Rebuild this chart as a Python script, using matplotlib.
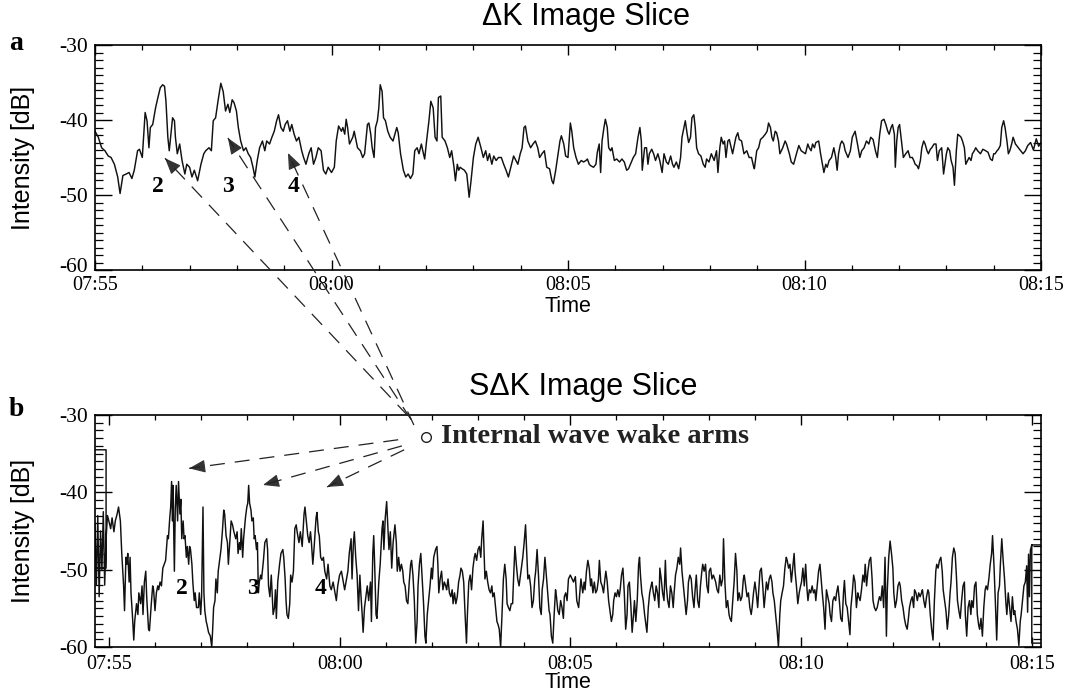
import numpy as np
import matplotlib
matplotlib.use('Agg')
import matplotlib.pyplot as plt
from matplotlib.lines import Line2D
from matplotlib.patches import FancyArrowPatch
from matplotlib.ticker import MultipleLocator
from matplotlib.transforms import ScaledTranslation

plt.rcParams['axes.unicode_minus'] = False
SERIF = 'Liberation Serif'
SANS = 'Liberation Sans'

# time axis: minutes after 07:55
time_ticks = [0, 5, 10, 15, 20]
time_labels = ['07:55', '08:00', '08:05', '08:10', '08:15']
db_ticks = [-60, -50, -40, -30]

# (minutes, dB)
trace_a = [
    (0.00, -41.5), (0.07, -42.3), (0.14, -43.7), (0.21, -44.1), (0.28, -44.8), (0.34, -45.0),
    (0.41, -45.9), (0.48, -47.6), (0.53, -49.8), (0.59, -47.4), (0.66, -47.2), (0.72, -47.0),
    (0.78, -47.8), (0.83, -46.7), (0.90, -44.1), (0.94, -43.9), (1.00, -45.0), (1.06, -39.0),
    (1.10, -40.1), (1.14, -43.7), (1.17, -41.0), (1.22, -40.6), (1.28, -38.4), (1.33, -37.0),
    (1.38, -35.7), (1.43, -35.3), (1.47, -35.5), (1.50, -37.5), (1.54, -42.3), (1.57, -44.1),
    (1.61, -41.5), (1.64, -39.7), (1.68, -40.1), (1.70, -42.3), (1.74, -44.5), (1.79, -43.2),
    (1.84, -45.4), (1.90, -47.2), (1.94, -45.9), (2.00, -46.3), (2.05, -47.6), (2.10, -46.7),
    (2.17, -48.1), (2.24, -45.9), (2.30, -44.5), (2.34, -44.1), (2.41, -43.7), (2.46, -44.1),
    (2.50, -40.1), (2.55, -39.7), (2.60, -37.5), (2.66, -35.1), (2.71, -36.2), (2.76, -38.8),
    (2.81, -37.9), (2.85, -39.0), (2.90, -37.3), (2.94, -37.7), (2.99, -38.8), (3.03, -41.0),
    (3.08, -42.8), (3.14, -44.1), (3.19, -43.7), (3.24, -44.5), (3.29, -45.0), (3.34, -46.3),
    (3.38, -47.6), (3.43, -45.4), (3.48, -43.7), (3.54, -42.8), (3.59, -44.1), (3.63, -42.8),
    (3.69, -43.2), (3.74, -42.3), (3.79, -41.5), (3.84, -40.1), (3.88, -39.3), (3.93, -41.0),
    (3.98, -41.5), (4.02, -40.6), (4.07, -40.1), (4.12, -41.5), (4.16, -40.6), (4.21, -41.9),
    (4.26, -42.8), (4.31, -42.3), (4.37, -44.1), (4.41, -45.0), (4.46, -45.9), (4.52, -44.5),
    (4.57, -43.7), (4.62, -45.9), (4.67, -45.0), (4.72, -43.7), (4.78, -44.1), (4.83, -46.7),
    (4.88, -47.2), (4.93, -46.3),
    (5.00, -47.0), (5.06, -46.3), (5.10, -42.8), (5.15, -40.8), (5.21, -41.5), (5.24, -41.0),
    (5.28, -41.9), (5.31, -39.9), (5.34, -41.0), (5.38, -43.2), (5.41, -42.8), (5.45, -42.3),
    (5.48, -41.5), (5.52, -42.8), (5.55, -43.7), (5.61, -44.1), (5.66, -45.0), (5.70, -44.5),
    (5.76, -40.6), (5.79, -40.4), (5.83, -41.9), (5.86, -43.7), (5.90, -45.0), (5.93, -41.0),
    (5.97, -40.1), (6.00, -38.4), (6.03, -35.3), (6.07, -36.2), (6.10, -39.7), (6.14, -40.1),
    (6.19, -41.5), (6.24, -42.3), (6.30, -42.8), (6.34, -41.9), (6.38, -41.0), (6.41, -41.7),
    (6.46, -44.5), (6.52, -46.7), (6.57, -47.6), (6.62, -47.2), (6.67, -47.8), (6.72, -47.2),
    (6.76, -44.1), (6.81, -43.7), (6.85, -44.5), (6.90, -43.2), (6.93, -44.1), (6.97, -45.2),
    (7.01, -42.8), (7.06, -40.1), (7.10, -37.5), (7.15, -38.4), (7.19, -42.3), (7.23, -42.8),
    (7.26, -37.0), (7.31, -36.8), (7.34, -42.3), (7.40, -42.8), (7.45, -43.7), (7.50, -45.0),
    (7.54, -44.1), (7.59, -46.3), (7.62, -48.1), (7.66, -45.9), (7.69, -46.7), (7.72, -46.3),
    (7.76, -46.5), (7.81, -46.7), (7.86, -47.2), (7.91, -50.3), (7.95, -48.1), (8.00, -45.0),
    (8.05, -43.2), (8.10, -42.3), (8.16, -43.7), (8.21, -45.0), (8.26, -44.1), (8.30, -45.4),
    (8.34, -44.5), (8.39, -45.9), (8.43, -44.8), (8.48, -45.4), (8.53, -45.0), (8.59, -45.0),
    (8.64, -45.9), (8.69, -46.7), (8.74, -47.6), (8.79, -46.3), (8.85, -44.8), (8.90, -45.4),
    (8.94, -45.9), (8.99, -44.5), (9.03, -43.7), (9.07, -41.0), (9.10, -40.8), (9.15, -42.8),
    (9.21, -43.7), (9.26, -43.2), (9.31, -42.8), (9.36, -43.7), (9.40, -45.0), (9.45, -44.5),
    (9.50, -44.1), (9.55, -46.3), (9.61, -46.5), (9.66, -48.1), (9.69, -48.5), (9.74, -46.7),
    (9.79, -44.5), (9.83, -42.8), (9.86, -42.1), (9.91, -43.2), (9.95, -44.8), (10.00, -45.0),
    (10.05, -40.4), (10.08, -41.5), (10.12, -43.7), (10.17, -45.0), (10.22, -45.9), (10.28, -45.4),
    (10.33, -45.6), (10.38, -45.4), (10.41, -45.2), (10.45, -45.9), (10.48, -46.1), (10.54, -46.3),
    (10.59, -45.9), (10.62, -44.3), (10.66, -43.2), (10.69, -47.0), (10.72, -42.8), (10.76, -41.0),
    (10.79, -39.9), (10.83, -41.0), (10.86, -43.7), (10.90, -44.1), (10.93, -43.7), (10.98, -45.4),
    (11.03, -45.2), (11.09, -45.6), (11.14, -45.2), (11.19, -45.6), (11.24, -46.7), (11.28, -46.5),
    (11.32, -45.9), (11.38, -45.0), (11.43, -44.5), (11.48, -42.3), (11.52, -41.0), (11.55, -42.8),
    (11.57, -46.7), (11.62, -43.7), (11.66, -43.7), (11.69, -45.9), (11.72, -44.5), (11.77, -43.9),
    (11.81, -44.5), (11.85, -45.4), (11.90, -44.5), (11.94, -45.4), (11.99, -47.0), (12.03, -44.5),
    (12.08, -45.6), (12.12, -45.9), (12.17, -44.8), (12.21, -45.9), (12.24, -46.3), (12.29, -45.6),
    (12.34, -46.5), (12.38, -45.0), (12.41, -42.3), (12.45, -41.0), (12.48, -40.1), (12.52, -41.9),
    (12.55, -43.0), (12.59, -42.3), (12.62, -39.7), (12.66, -39.3), (12.69, -41.0), (12.72, -43.7),
    (12.76, -44.5), (12.81, -44.8), (12.86, -45.9), (12.90, -46.3), (12.93, -45.2), (12.98, -45.6),
    (13.03, -44.5), (13.09, -45.4), (13.14, -44.1), (13.17, -47.0), (13.21, -43.7), (13.24, -42.3),
    (13.28, -43.2), (13.31, -42.8), (13.34, -45.0), (13.38, -42.8), (13.41, -42.6), (13.45, -43.7),
    (13.48, -44.5), (13.52, -43.2), (13.55, -42.3), (13.59, -41.7), (13.62, -42.6), (13.67, -42.8),
    (13.72, -44.5), (13.78, -44.1), (13.83, -45.0), (13.88, -45.0), (13.92, -46.1), (13.94, -46.5),
    (13.99, -44.1), (14.03, -43.7), (14.07, -42.6), (14.12, -42.3), (14.17, -41.9), (14.21, -41.5),
    (14.24, -40.4), (14.28, -41.0), (14.31, -42.3), (14.34, -42.8), (14.38, -41.5), (14.41, -41.7),
    (14.45, -42.8), (14.48, -44.5), (14.54, -43.7), (14.59, -42.8), (14.62, -43.2), (14.68, -44.5),
    (14.72, -45.6), (14.77, -45.9), (14.83, -44.5), (14.88, -43.4), (14.93, -44.1),
    (15.02, -44.5), (15.07, -43.2), (15.10, -43.7), (15.14, -44.1), (15.17, -43.2), (15.21, -43.7),
    (15.24, -43.0), (15.30, -42.8), (15.34, -44.5), (15.38, -45.9), (15.41, -47.0), (15.45, -45.9),
    (15.48, -46.3), (15.52, -45.4), (15.57, -45.0), (15.62, -43.7), (15.66, -45.0), (15.69, -46.7),
    (15.72, -44.5), (15.76, -43.2), (15.79, -42.8), (15.83, -43.2), (15.86, -44.1), (15.92, -45.0),
    (15.97, -44.1), (16.01, -42.3), (16.07, -41.5), (16.12, -43.2), (16.17, -45.0), (16.21, -44.1),
    (16.26, -43.7), (16.31, -42.8), (16.36, -43.2), (16.40, -42.3), (16.45, -42.6), (16.50, -44.1),
    (16.54, -45.0), (16.59, -41.9), (16.63, -40.1), (16.68, -39.9), (16.72, -40.6), (16.76, -41.5),
    (16.79, -41.9), (16.83, -41.0), (16.86, -40.6), (16.90, -41.9), (16.92, -46.3), (16.95, -42.8),
    (16.98, -41.0), (17.01, -40.6), (17.05, -42.8), (17.09, -45.0), (17.14, -44.5), (17.19, -44.1),
    (17.23, -45.0), (17.28, -45.0), (17.31, -45.4), (17.34, -45.9), (17.38, -46.1), (17.41, -46.5),
    (17.45, -45.4), (17.48, -43.7), (17.52, -42.8), (17.55, -43.2), (17.59, -44.1), (17.62, -44.5),
    (17.66, -43.9), (17.69, -43.7), (17.74, -43.2), (17.78, -43.2), (17.81, -45.4), (17.85, -44.1),
    (17.90, -43.7), (17.94, -47.2), (17.97, -45.9), (18.00, -44.5), (18.03, -43.7), (18.07, -44.1),
    (18.10, -45.4), (18.14, -46.3), (18.17, -48.7), (18.21, -44.1), (18.24, -41.9), (18.28, -42.1),
    (18.31, -42.3), (18.34, -42.8), (18.38, -43.7), (18.41, -45.9), (18.45, -45.4), (18.48, -45.0),
    (18.52, -45.4), (18.55, -44.5), (18.59, -44.1), (18.62, -43.7), (18.66, -44.1), (18.69, -44.3),
    (18.72, -44.5), (18.77, -43.9), (18.83, -44.1), (18.88, -44.3), (18.93, -45.2), (18.97, -45.4),
    (19.00, -44.5), (19.03, -44.5), (19.07, -44.1), (19.10, -43.9), (19.14, -43.4), (19.17, -41.0),
    (19.21, -40.1), (19.24, -41.0), (19.28, -42.8), (19.31, -44.5), (19.34, -44.1), (19.38, -43.2),
    (19.41, -42.3), (19.46, -43.2), (19.52, -43.7), (19.57, -44.1), (19.62, -44.5), (19.67, -44.1),
    (19.72, -43.4), (19.78, -43.0), (19.84, -44.0), (19.90, -42.5), (19.95, -43.5), (20.00, -43.0),
]

# (minutes, dB), including the boxed start and end
trace_b = [
    (-0.35, -34.5), (-0.06, -34.5), (-0.06, -49.8), (-0.35, -49.8), (-0.30, -44.0), (-0.27, -52.0),
    (-0.24, -43.0), (-0.21, -53.5), (-0.18, -45.0), (-0.15, -50.0), (-0.12, -42.5), (-0.09, -52.0),
    (-0.06, -46.0), (-0.03, -43.0),
    (0.00, -43.7), (0.04, -44.7), (0.07, -43.3), (0.11, -45.1), (0.14, -43.7), (0.18, -42.8),
    (0.21, -41.9), (0.25, -43.7), (0.28, -47.9), (0.32, -52.1), (0.34, -55.3), (0.37, -48.4),
    (0.39, -49.3), (0.41, -47.9), (0.44, -51.6), (0.46, -48.4), (0.48, -53.0), (0.51, -55.8),
    (0.54, -59.1), (0.56, -56.7), (0.60, -54.4), (0.63, -55.8), (0.65, -53.0), (0.69, -54.4),
    (0.72, -52.1), (0.74, -55.8), (0.77, -51.6), (0.80, -50.2), (0.82, -53.5), (0.86, -57.7),
    (0.88, -57.9), (0.92, -54.4), (0.95, -52.1), (0.97, -52.6), (1.00, -55.3), (1.03, -53.0),
    (1.06, -52.1), (1.08, -52.6), (1.11, -51.6), (1.14, -52.1), (1.17, -49.8), (1.20, -49.3),
    (1.23, -48.8), (1.27, -45.6), (1.29, -46.0), (1.32, -43.3), (1.34, -41.9), (1.36, -38.6),
    (1.38, -43.7), (1.39, -39.1), (1.42, -50.2), (1.44, -41.9), (1.46, -39.1), (1.49, -43.7),
    (1.51, -38.6), (1.54, -42.8), (1.56, -40.9), (1.58, -46.0), (1.61, -43.7), (1.63, -46.0),
    (1.65, -45.6), (1.68, -48.4), (1.70, -47.0), (1.73, -49.3), (1.75, -47.0), (1.77, -47.4),
    (1.80, -49.3), (1.82, -51.6), (1.85, -54.0), (1.87, -53.0), (1.90, -54.9), (1.94, -54.9),
    (1.96, -53.0), (1.99, -55.8), (2.01, -53.5), (2.04, -41.9), (2.06, -53.0), (2.08, -55.3),
    (2.11, -56.7), (2.13, -57.2), (2.16, -58.1), (2.20, -58.6), (2.23, -60.0), (2.25, -57.7),
    (2.27, -54.9), (2.30, -54.0), (2.32, -51.2), (2.35, -53.0), (2.37, -50.2), (2.39, -49.3),
    (2.43, -47.4), (2.46, -45.1), (2.49, -42.3), (2.51, -42.8), (2.54, -45.6), (2.57, -46.5),
    (2.59, -49.3), (2.62, -46.5), (2.65, -43.7), (2.68, -44.2), (2.71, -45.1), (2.75, -46.0),
    (2.78, -45.1), (2.80, -47.9), (2.83, -46.5), (2.85, -47.4), (2.87, -44.7), (2.90, -48.4),
    (2.92, -46.0), (2.96, -43.3), (2.99, -41.9), (3.01, -41.4), (3.03, -39.1), (3.05, -41.4),
    (3.08, -42.3), (3.10, -43.7), (3.13, -43.3), (3.15, -46.0), (3.17, -45.6), (3.20, -47.4),
    (3.22, -46.5), (3.24, -53.0), (3.26, -51.6), (3.29, -50.7), (3.31, -51.2), (3.35, -48.8),
    (3.38, -46.5), (3.42, -46.0), (3.44, -47.4), (3.46, -52.1), (3.49, -53.5), (3.52, -50.7),
    (3.56, -55.8), (3.59, -54.9), (3.61, -52.6), (3.63, -56.3), (3.66, -51.6), (3.70, -49.3),
    (3.73, -47.9), (3.77, -47.4), (3.79, -48.4), (3.82, -51.2), (3.84, -54.0), (3.86, -55.8),
    (3.89, -56.3), (3.92, -54.4), (3.94, -50.7), (3.97, -51.6), (4.00, -50.2), (4.03, -44.7),
    (4.06, -44.2), (4.08, -45.1), (4.12, -46.5), (4.15, -45.1), (4.19, -47.0), (4.23, -42.8),
    (4.25, -41.9), (4.28, -43.7), (4.31, -45.6), (4.34, -46.5), (4.37, -45.1), (4.39, -46.5),
    (4.42, -49.3), (4.45, -47.0), (4.49, -43.3), (4.51, -42.6), (4.54, -45.1), (4.56, -45.6),
    (4.59, -48.4), (4.62, -48.8), (4.65, -48.4), (4.68, -50.2), (4.72, -51.2), (4.75, -49.3),
    (4.79, -52.1), (4.82, -52.6), (4.86, -51.6),
    (4.89, -52.6), (4.93, -54.0), (4.96, -52.1), (5.00, -50.7), (5.04, -50.2), (5.07, -51.2),
    (5.11, -52.6), (5.14, -51.6), (5.18, -50.2), (5.21, -47.9), (5.25, -46.0), (5.27, -51.2),
    (5.30, -46.5), (5.32, -45.1), (5.35, -48.4), (5.38, -50.7), (5.41, -55.3), (5.44, -50.7),
    (5.46, -53.0), (5.49, -55.8), (5.51, -58.1), (5.54, -54.9), (5.56, -54.0), (5.60, -52.1),
    (5.63, -54.0), (5.67, -51.6), (5.69, -56.7), (5.72, -47.9), (5.74, -45.6), (5.76, -49.3),
    (5.79, -55.8), (5.81, -56.3), (5.85, -51.6), (5.88, -49.3), (5.92, -44.7), (5.94, -43.7),
    (5.96, -47.4), (5.99, -43.3), (6.02, -41.2), (6.04, -43.7), (6.07, -47.4), (6.10, -45.1),
    (6.13, -49.8), (6.16, -46.5), (6.20, -44.2), (6.23, -46.5), (6.25, -50.2), (6.28, -48.4),
    (6.31, -50.2), (6.34, -49.3), (6.37, -50.2), (6.39, -51.6), (6.42, -52.1), (6.45, -54.0),
    (6.48, -54.4), (6.51, -51.6), (6.54, -49.3), (6.56, -48.8), (6.59, -50.7), (6.62, -54.0),
    (6.65, -59.5), (6.68, -56.7), (6.70, -52.1), (6.73, -49.3), (6.76, -47.9), (6.79, -51.2),
    (6.82, -54.4), (6.85, -58.6), (6.87, -59.5), (6.90, -55.8), (6.93, -54.0), (6.96, -52.1),
    (6.99, -49.8), (7.01, -51.2), (7.04, -48.4), (7.08, -47.4), (7.11, -47.0), (7.13, -49.3),
    (7.15, -53.0), (7.18, -51.2), (7.21, -50.2), (7.24, -52.6), (7.27, -51.6), (7.30, -52.1),
    (7.32, -52.6), (7.35, -51.2), (7.38, -53.0), (7.41, -53.5), (7.44, -52.6), (7.46, -54.4),
    (7.49, -53.0), (7.52, -54.4), (7.55, -53.5), (7.58, -51.6), (7.61, -50.7), (7.63, -49.8),
    (7.66, -50.2), (7.69, -51.6), (7.72, -55.8), (7.75, -59.5), (7.77, -55.8), (7.80, -51.6),
    (7.83, -50.7), (7.86, -52.6), (7.89, -49.8), (7.92, -48.4), (7.94, -47.9), (7.97, -48.8),
    (8.00, -47.4), (8.03, -47.0), (8.06, -48.4), (8.08, -46.0), (8.11, -43.7), (8.13, -47.4),
    (8.15, -51.2), (8.18, -50.2), (8.21, -51.6), (8.24, -52.6), (8.27, -53.0), (8.30, -52.1),
    (8.32, -53.5), (8.35, -53.0), (8.38, -54.9), (8.41, -56.7), (8.44, -57.2), (8.46, -57.7),
    (8.49, -60.0), (8.52, -55.8), (8.55, -51.2), (8.58, -49.3), (8.61, -51.2), (8.63, -54.4),
    (8.66, -54.9), (8.69, -55.3), (8.72, -54.4), (8.75, -54.4), (8.77, -51.2), (8.80, -47.0),
    (8.83, -49.3), (8.86, -51.2), (8.89, -52.1), (8.92, -50.7), (8.94, -49.8), (8.97, -48.4),
    (9.00, -46.5), (9.03, -44.2), (9.06, -48.4), (9.08, -51.2), (9.11, -50.7), (9.14, -52.1),
    (9.17, -54.9), (9.20, -54.0), (9.23, -51.2), (9.25, -50.2), (9.28, -47.4), (9.31, -50.7),
    (9.34, -54.9), (9.37, -55.8), (9.39, -52.6), (9.42, -51.2), (9.45, -48.4), (9.48, -50.7),
    (9.51, -53.0), (9.54, -55.3), (9.56, -55.8), (9.59, -58.6), (9.62, -59.5), (9.65, -55.8),
    (9.68, -52.6), (9.70, -53.5), (9.73, -55.3), (9.76, -55.8), (9.79, -54.0), (9.82, -54.9),
    (9.85, -56.3), (9.87, -53.5), (9.90, -53.0), (9.93, -54.0),
    (9.96, -51.2), (10.00, -50.7), (10.04, -51.2), (10.07, -51.6), (10.11, -50.9), (10.14, -54.0),
    (10.18, -54.9), (10.21, -52.6), (10.23, -51.2), (10.27, -53.0), (10.30, -51.6), (10.32, -52.6),
    (10.35, -50.2), (10.38, -48.8), (10.41, -49.8), (10.44, -52.1), (10.46, -51.2), (10.49, -53.0),
    (10.52, -51.6), (10.55, -53.0), (10.58, -52.6), (10.61, -51.2), (10.63, -48.8), (10.66, -51.6),
    (10.69, -52.1), (10.72, -53.0), (10.75, -51.2), (10.77, -50.2), (10.80, -51.6), (10.83, -54.0),
    (10.86, -55.3), (10.89, -56.7), (10.92, -55.8), (10.94, -54.0), (10.97, -53.0), (11.00, -53.5),
    (11.03, -52.6), (11.06, -53.5), (11.08, -52.6), (11.11, -50.7), (11.14, -49.8), (11.17, -53.0),
    (11.20, -57.7), (11.23, -55.8), (11.25, -52.1), (11.28, -51.6), (11.31, -54.4), (11.34, -58.1),
    (11.37, -55.8), (11.39, -54.0), (11.42, -56.7), (11.45, -54.0), (11.48, -49.3), (11.50, -48.4),
    (11.52, -50.7), (11.55, -53.0), (11.58, -54.0), (11.61, -55.8), (11.63, -56.7), (11.66, -58.1),
    (11.69, -54.9), (11.72, -53.0), (11.75, -52.1), (11.77, -51.6), (11.80, -53.0), (11.83, -54.0),
    (11.86, -52.1), (11.89, -53.0), (11.92, -54.9), (11.94, -49.8), (11.97, -51.2), (12.00, -53.0),
    (12.03, -54.0), (12.06, -48.8), (12.08, -52.1), (12.11, -54.0), (12.14, -54.9), (12.17, -52.1),
    (12.20, -53.0), (12.23, -54.9), (12.25, -53.0), (12.28, -50.7), (12.31, -49.8), (12.34, -48.4),
    (12.37, -49.3), (12.39, -47.2), (12.42, -50.2), (12.45, -52.1), (12.48, -54.0), (12.51, -55.8),
    (12.54, -54.0), (12.56, -51.6), (12.59, -50.7), (12.62, -51.2), (12.65, -53.5), (12.68, -54.9),
    (12.70, -53.0), (12.73, -50.7), (12.76, -54.0), (12.79, -54.9), (12.82, -52.1), (12.85, -50.2),
    (12.87, -49.3), (12.90, -50.2), (12.93, -49.3), (12.96, -52.1), (12.99, -53.0), (13.01, -50.2),
    (13.04, -49.8), (13.07, -51.2), (13.10, -50.7), (13.13, -51.2), (13.15, -51.6), (13.18, -52.6),
    (13.21, -53.0), (13.24, -50.7), (13.27, -52.1), (13.30, -51.2), (13.32, -46.0), (13.35, -51.6),
    (13.38, -54.9), (13.41, -54.0), (13.44, -55.8), (13.46, -56.3), (13.49, -56.7), (13.52, -54.0),
    (13.55, -51.6), (13.58, -47.9), (13.61, -50.2), (13.63, -54.0), (13.66, -53.0), (13.69, -54.0),
    (13.72, -53.5), (13.75, -51.2), (13.77, -50.7), (13.80, -52.1), (13.83, -53.5), (13.86, -53.0),
    (13.89, -54.9), (13.92, -55.8), (13.94, -54.9), (13.97, -53.0), (14.00, -51.6), (14.03, -53.0),
    (14.06, -54.9), (14.08, -53.0), (14.11, -50.2), (14.14, -49.8), (14.17, -52.1), (14.20, -54.9),
    (14.23, -53.0), (14.25, -51.6), (14.28, -52.6), (14.31, -51.2), (14.34, -50.7), (14.37, -51.6),
    (14.39, -53.0), (14.42, -54.0), (14.45, -55.8), (14.48, -57.7), (14.51, -60.0), (14.54, -55.8),
    (14.56, -54.0), (14.59, -53.0), (14.62, -52.1), (14.65, -49.8), (14.68, -48.4), (14.70, -48.8),
    (14.73, -49.8), (14.76, -49.3), (14.79, -51.6), (14.82, -49.8), (14.85, -47.9), (14.87, -50.2),
    (14.90, -52.1), (14.93, -54.4), (14.96, -53.0), (14.99, -52.1),
    (15.01, -51.6), (15.04, -49.8), (15.07, -52.1), (15.10, -49.3), (15.13, -52.6), (15.15, -54.0),
    (15.18, -52.6), (15.21, -53.0), (15.24, -52.1), (15.27, -53.0), (15.30, -52.6), (15.32, -54.0),
    (15.35, -52.1), (15.38, -50.2), (15.41, -49.3), (15.44, -51.6), (15.46, -53.0), (15.49, -54.9),
    (15.52, -57.7), (15.55, -52.6), (15.58, -53.5), (15.61, -54.4), (15.63, -55.8), (15.66, -56.7),
    (15.69, -54.0), (15.72, -53.5), (15.75, -54.0), (15.77, -53.0), (15.80, -52.1), (15.83, -54.0),
    (15.86, -56.3), (15.89, -56.7), (15.92, -53.0), (15.94, -51.4), (15.97, -54.4), (16.00, -54.9),
    (16.03, -56.7), (16.06, -58.4), (16.08, -54.9), (16.11, -53.0), (16.14, -50.7), (16.17, -51.6),
    (16.20, -54.9), (16.23, -53.0), (16.25, -53.5), (16.28, -54.0), (16.31, -52.6), (16.34, -50.7),
    (16.37, -51.6), (16.39, -49.3), (16.42, -52.1), (16.45, -50.2), (16.48, -48.8), (16.51, -48.4),
    (16.54, -51.2), (16.56, -54.0), (16.59, -54.9), (16.62, -55.3), (16.65, -54.9), (16.68, -54.0),
    (16.70, -53.5), (16.73, -54.0), (16.76, -52.1), (16.79, -54.9), (16.82, -48.4), (16.85, -58.6),
    (16.87, -52.6), (16.90, -48.4), (16.93, -46.3), (16.96, -47.9), (16.99, -49.8), (17.01, -53.0),
    (17.04, -54.9), (17.07, -54.0), (17.10, -52.1), (17.13, -51.6), (17.15, -52.1), (17.18, -54.0),
    (17.21, -54.9), (17.24, -56.3), (17.27, -57.2), (17.30, -57.7), (17.32, -56.7), (17.35, -54.9),
    (17.38, -54.0), (17.41, -53.5), (17.44, -54.9), (17.46, -52.6), (17.49, -53.0), (17.52, -54.0),
    (17.55, -53.0), (17.58, -53.5), (17.61, -53.0), (17.63, -52.6), (17.66, -54.0), (17.69, -54.9),
    (17.72, -53.5), (17.75, -52.6), (17.77, -53.0), (17.80, -55.8), (17.83, -57.7), (17.86, -59.1),
    (17.89, -54.0), (17.92, -50.2), (17.94, -49.3), (17.97, -49.8), (18.00, -48.8), (18.03, -48.4),
    (18.06, -50.2), (18.08, -52.6), (18.11, -54.0), (18.14, -55.3), (18.17, -57.7), (18.20, -55.8),
    (18.23, -53.0), (18.25, -51.6), (18.28, -48.4), (18.31, -47.2), (18.34, -47.9), (18.37, -51.2),
    (18.39, -54.0), (18.42, -55.3), (18.45, -56.3), (18.48, -54.0), (18.51, -52.1), (18.54, -51.6),
    (18.56, -55.8), (18.59, -58.6), (18.62, -54.9), (18.65, -54.0), (18.68, -55.8), (18.70, -54.0),
    (18.73, -54.9), (18.76, -52.1), (18.79, -51.6), (18.82, -55.8), (18.85, -57.2), (18.87, -57.7),
    (18.90, -56.3), (18.93, -58.6), (18.96, -54.9), (18.99, -52.6), (19.01, -52.1), (19.04, -52.6),
    (19.07, -51.2), (19.10, -49.3), (19.13, -47.9), (19.15, -45.6), (19.18, -49.3), (19.21, -54.0),
    (19.24, -59.1), (19.27, -53.0), (19.30, -52.1), (19.32, -49.3), (19.35, -46.0), (19.38, -48.8),
    (19.41, -51.2), (19.44, -54.4), (19.46, -55.8), (19.49, -53.0), (19.52, -54.9), (19.55, -56.7),
    (19.58, -53.5), (19.61, -55.8), (19.63, -55.3), (19.66, -56.7), (19.69, -57.7), (19.72, -59.8),
    (19.75, -56.7), (19.77, -55.8), (19.80, -54.0), (19.83, -52.1), (19.86, -51.6),
    (19.89, -49.5), (19.91, -55.5), (19.93, -48.0), (19.95, -53.5), (19.97, -47.5), (20.00, -46.8),
    (20.30, -46.8), (20.30, -59.5), (20.00, -59.5), (20.00, -46.8),
]

# annotation positions (data units of each panel)
nums_a = [('2', 1.33, -48.9), ('3', 2.81, -48.9), ('4', 4.19, -48.9)]
nums_b = [('2', 1.585, -52.5), ('3', 3.12, -52.5), ('4', 4.58, -52.5)]
tips_a = [(1.48, -45.1), (2.81, -42.4), (4.08, -44.4)]
ends_a = [(6.48, -30.1), (6.55, -30.6), (6.61, -31.3)]   # in panel b units
tips_b = [(1.74, -36.9), (3.34, -39.05), (4.73, -39.3)]
ends_b = [(6.27, -33.2), (6.35, -34.0), (6.40, -34.5)]
hub = (6.87, -32.8)

fig = plt.figure(figsize=(10.88, 6.92), dpi=100)
ax_a = fig.add_axes([95 / 1088, 1 - 270 / 692, 946 / 1088, 225 / 692])
ax_b = fig.add_axes([95 / 1088, 1 - 647 / 692, 946 / 1088, 232 / 692])


def style(ax, xlim, title, title_x, xpad, xlabel_y):
    ax.set_xlim(*xlim)
    ax.set_ylim(-60, -30)
    ax.set_xticks(time_ticks)
    ax.set_xticklabels(time_labels, fontfamily=SERIF, fontsize=14.5)
    ax.xaxis.set_minor_locator(MultipleLocator(1))
    ax.set_yticks(db_ticks)
    ax.set_yticklabels([str(v) for v in db_ticks], fontfamily=SERIF, fontsize=15.5)
    ax.yaxis.set_minor_locator(MultipleLocator(1))
    ax.tick_params(axis='x', which='both', direction='in', top=True, bottom=True, pad=xpad)
    ax.tick_params(axis='x', which='major', length=7.5, width=1)
    ax.tick_params(axis='x', which='minor', length=3.8, width=0.9)
    ax.tick_params(axis='y', which='both', direction='in', left=True, right=True, pad=5)
    ax.tick_params(axis='y', which='major', length=12, width=1)
    ax.tick_params(axis='y', which='minor', length=6, width=0.9)
    for s in ax.spines.values():
        s.set_linewidth(1.2)
    ax.set_xlabel('Time', fontfamily=SANS, fontsize=15.5)
    ax.xaxis.set_label_coords(0.5, xlabel_y)
    ax.set_ylabel('Intensity [dB]', fontfamily=SANS, fontsize=18)
    ax.yaxis.set_label_coords(-0.063, 0.5)
    ax.set_title(title, fontfamily=SANS, fontsize=22, pad=14.5, x=title_x)


style(ax_a, (0, 20), 'ΔK Image Slice', 0.519, 4.5, -0.115)
style(ax_b, (-0.3, 20.2), 'SΔK Image Slice', 0.516, 5.5, -0.108)

# lift the lowest dB label of panel a a little so it clears the first time label
low = ax_a.yaxis.get_major_ticks()[0].label1
low.set_transform(low.get_transform() + ScaledTranslation(0, 3.5 / 72, fig.dpi_scale_trans))

ta, va = zip(*trace_a)
tb, vb = zip(*trace_b)
ax_a.plot(ta, va, color='#111111', lw=1.05)
ax_b.plot(tb, vb, color='#111111', lw=1.05)

for ax, nums in ((ax_a, nums_a), (ax_b, nums_b)):
    for s, x, y in nums:
        ax.text(x, y, s, ha='center', va='center', fontfamily=SERIF,
                fontweight='bold', fontsize=17)

fig.text(16 / 1088, 1 - 43 / 692, 'a', ha='center', va='center',
         fontfamily=SERIF, fontweight='bold', fontsize=20)
fig.text(16 / 1088, 1 - 410 / 692, 'b', ha='center', va='center',
         fontfamily=SERIF, fontweight='bold', fontsize=20)

ax_b.plot([hub[0]], [hub[1]], 'o', mfc='white', mec='#222222', ms=7, mew=1.0, zorder=5)
ax_b.text(7.20, hub[1], 'Internal wave wake arms', ha='left', va='center',
          fontfamily=SERIF, fontweight='bold', fontsize=20.5, color='#222222')

inv = fig.transFigure.inverted()


def wake(ax_tip, tip, ax_end, end):
    p1 = np.array(ax_tip.transData.transform(tip))
    p0 = np.array(ax_end.transData.transform(end))
    f0, f1 = inv.transform(p0), inv.transform(p1)
    fig.add_artist(Line2D([f0[0], f1[0]], [f0[1], f1[1]], transform=fig.transFigure,
                          color='#222222', lw=0.9, ls=(0, (12, 8))))
    d = (p0 - p1) / np.hypot(*(p0 - p1))
    base = inv.transform(p1 + d * 15)
    fig.add_artist(FancyArrowPatch(base, f1, transform=fig.transFigure,
                                   arrowstyle='-|>,head_length=10,head_width=4',
                                   mutation_scale=1, color='#333333', lw=0.8,
                                   shrinkA=0, shrinkB=0))


for tip, end in zip(tips_a, ends_a):
    wake(ax_a, tip, ax_b, end)
for tip, end in zip(tips_b, ends_b):
    wake(ax_b, tip, ax_b, end)

fig.savefig('out.png', dpi=100)
